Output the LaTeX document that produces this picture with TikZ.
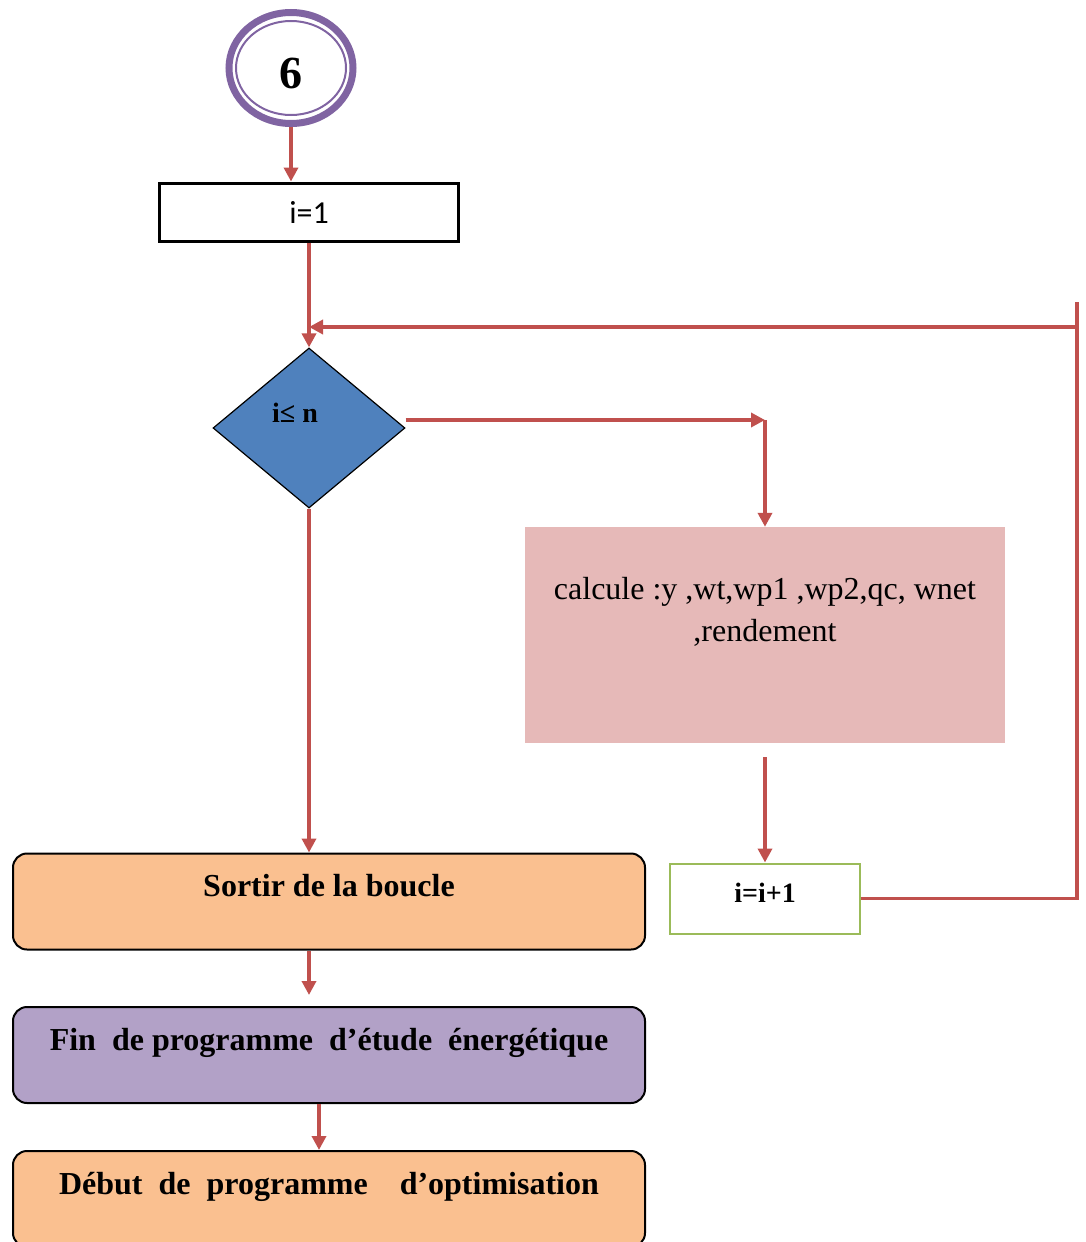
\documentclass[tikz,border=0pt]{standalone}
\usepackage{fontspec}
\usepackage{xcolor}
\usetikzlibrary{shapes.geometric,arrows.meta}
\setmainfont{Liberation Serif}
\newfontfamily\calibrifont{Carlito}
\definecolor{flowred}{HTML}{C0504D}
\definecolor{cercle}{HTML}{8064A2}
\definecolor{losange}{HTML}{4F81BD}
\definecolor{rose}{HTML}{E6B9B8}
\definecolor{vert}{HTML}{9BBB59}
\definecolor{orange}{HTML}{FAC090}
\definecolor{lavande}{HTML}{B2A1C7}
\newcommand{\FB}{\fontsize{32}{40}\selectfont\bfseries}
\newcommand{\FR}{\fontsize{32}{42}\selectfont}
\newcommand{\FI}{\fontsize{28}{34}\selectfont\bfseries}
\newcommand{\FS}{\fontsize{32}{38}\selectfont\calibrifont}
\newcommand{\FN}{\fontsize{46}{50}\selectfont\bfseries}

\begin{document}
\begin{tikzpicture}[x=1pt,y=-1pt]
\tikzstyle{fleche}=[flowred,line width=3.5pt,-{Triangle[length=14pt,width=14pt]}]
\tikzstyle{trait}=[flowred,line width=3.5pt]
\tikzstyle{boite}=[rectangle,rounded corners=14pt,draw=black,line width=2pt,minimum width=632pt,minimum height=96pt,font=\FB,text height=24pt,text depth=34pt]

\useasboundingbox (0,0) rectangle (1085,1242);

\node[ellipse,draw=cercle,line width=7pt,minimum width=124pt,minimum height=111pt,inner sep=0pt,font=\FN,text height=40pt,text depth=0pt] (six) at (291,68) {6};
\draw[cercle,line width=2pt] (six.center) ellipse [x radius=55pt,y radius=47pt];

\node[rectangle,draw=black,line width=3pt,minimum width=299pt,minimum height=58pt,font=\FS,text height=22pt,text depth=0pt] (init) at (309,212) {i=1};
\node[diamond,draw=black,line width=1.2pt,fill=losange,minimum width=192pt,minimum height=160pt,inner sep=0pt,font=\FI,text height=20pt,text depth=32pt] (cond) at (309,428) {i≤ n\kern28pt};
\node[rectangle,fill=rose,minimum width=480pt,minimum height=216pt,font=\FR,align=center,text height=24pt,text depth=12pt] (calc) at (765,635) {calcule :y ,wt,wp1 ,wp2,qc, wnet\\,rendement};
\node[rectangle,draw=vert,line width=2pt,minimum width=190pt,minimum height=70pt,font=\FI,text height=19pt,text depth=12pt] (inc) at (765,898.5) {i=i+1};

\node[boite,fill=orange] (sortir) at (329,901.5) {Sortir de la boucle};
\node[boite,fill=lavande] (fin) at (329,1055) {Fin\ \ de programme\ \ d’étude\ \ énergétique};
\node[boite,fill=orange] (debut) at (329,1199) {Début\ \ de\ \ programme\ \ \ \ d’optimisation};

\coordinate (turn) at (765,420);
\coordinate (looptop) at (1077,302);
\coordinate (loopback) at (1077,327);

% fleches
\draw[fleche] (six.south) -- (six.south |- init.north);
\draw[fleche] (init.south) -- (cond.north);
\draw[fleche] (cond.east |- turn) -- (turn);
\draw[fleche] (turn) -- (calc.north);
\draw[fleche] ([yshift=-14pt]calc.south) -- (inc.north);
\draw[trait] (inc.east) -| (looptop);
\draw[fleche] (loopback) -- (cond.north |- loopback);
\draw[fleche] (cond.south) -- (cond.south |- sortir.north);
\draw[fleche,shorten >=11pt] (cond.south |- sortir.south) -- (cond.south |- fin.north);
\draw[fleche] ([xshift=-10pt]fin.south) -- ([xshift=-10pt]debut.north);
\end{tikzpicture}
\end{document}
